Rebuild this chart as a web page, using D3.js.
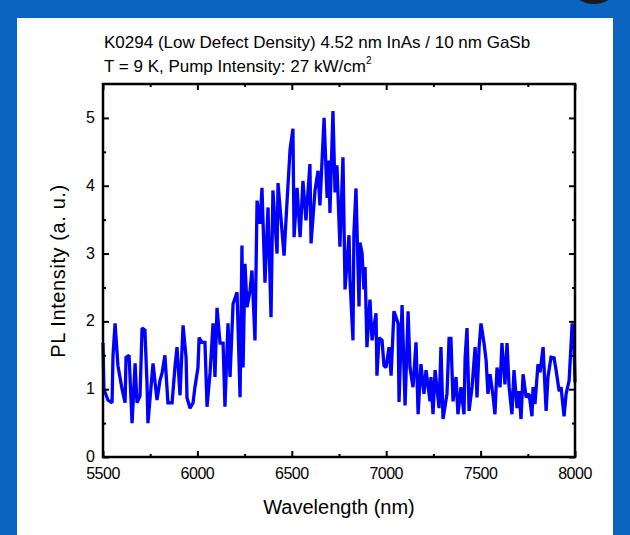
<!DOCTYPE html>
<html>
<head>
<meta charset="utf-8">
<script src="https://cdn.jsdelivr.net/npm/d3@7"></script>
<style>
  body { margin: 0; background: #0a64c0; }
  text { font-family: "Liberation Sans", Arial, sans-serif; fill: #000; }
</style>
</head>
<body>
<div id="chart"></div>
<script>
const width = 630;
const height = 535;

// values
const wavelength = [5500,5505,5526,5548,5553,5564,5579,5601,5617,5622,5638,5654,5670,5680,5696,5707,5722,5733,5738,5765,5786,5802,5813,5828,5844,5866,5881,5892,5908,5924,5940,5945,5961,5977,5987,6003,6009,6024,6040,6051,6067,6083,6093,6104,6120,6136,6146,6162,6173,6189,6210,6226,6236,6242,6252,6263,6279,6289,6305,6316,6332,6342,6358,6374,6390,6400,6422,6427,6448,6459,6475,6491,6506,6512,6528,6544,6559,6575,6596,6602,6623,6639,6649,6671,6687,6697,6702,6718,6729,6739,6755,6771,6782,6803,6808,6824,6829,6840,6856,6861,6872,6882,6888,6898,6914,6925,6946,6951,6962,6978,6988,6999,7015,7026,7041,7063,7068,7084,7100,7116,7126,7142,7158,7169,7184,7200,7211,7232,7237,7248,7259,7280,7290,7301,7322,7333,7343,7354,7370,7380,7396,7412,7418,7428,7439,7455,7471,7481,7492,7502,7518,7529,7539,7550,7566,7576,7587,7603,7613,7629,7640,7651,7666,7677,7693,7704,7714,7725,7741,7757,7772,7778,7788,7804,7815,7831,7847,7857,7873,7889,7900,7916,7926,7942,7953,7969,7985,7995,8000];
const intensity = [1.68,1.0,0.84,0.8,1.5,1.97,1.35,1.0,0.8,1.47,1.5,0.5,1.38,0.8,0.9,1.9,1.87,1.09,0.5,1.38,0.84,1.13,1.24,1.5,0.8,0.8,1.32,1.62,0.91,1.94,1.47,0.87,0.72,0.8,1.03,1.32,1.76,1.69,1.69,0.74,1.24,1.97,1.18,2.2,1.68,1.68,0.74,1.97,1.18,2.26,2.43,0.88,3.12,1.32,2.85,2.21,2.46,2.75,1.72,3.78,3.44,3.97,2.57,3.68,2.06,3.93,3.0,4.04,3.34,2.97,3.78,4.54,4.84,3.24,3.97,3.24,4.07,3.49,4.32,3.15,3.93,4.22,3.71,5.0,3.82,4.37,3.6,5.1,3.9,4.3,3.1,4.42,2.47,3.27,2.62,1.72,3.3,3.96,2.22,3.16,3.01,2.47,2.8,1.62,2.32,1.72,2.12,1.2,1.76,1.72,1.35,1.32,1.62,1.2,2.15,1.97,0.81,2.24,0.76,2.15,1.32,1.03,1.69,0.63,1.37,0.93,1.28,0.82,1.18,0.63,1.28,0.72,1.62,0.56,0.93,1.75,1.75,0.82,1.18,0.63,1.03,0.63,1.47,1.9,0.68,1.04,1.62,0.88,1.62,1.97,1.68,1.43,0.93,1.22,0.9,0.63,1.32,1.03,1.68,1.07,1.68,1.03,0.63,1.28,0.72,0.97,0.56,1.22,0.88,0.93,0.6,1.03,0.78,1.37,1.25,1.62,0.68,1.18,1.47,1.46,1.28,0.97,1.03,0.6,0.93,1.13,1.97,1.68,1.1];

const xTicks = [5500, 6000, 6500, 7000, 7500, 8000];
const xMinor = [5750, 6250, 6750, 7250, 7750];
const yTicks = [0, 1, 2, 3, 4, 5];
const yMinor = [0.5, 1.5, 2.5, 3.5, 4.5];

const titleLine1 = "K0294 (Low Defect Density) 4.52 nm InAs / 10 nm GaSb";
const titleLine2 = "T = 9 K, Pump Intensity: 27 kW/cm";

const margin = {left: 103, right: 575, top: 84, bottom: 457};

const x = d3.scaleLinear().domain([5500, 8000]).range([margin.left, margin.right]);
const y = d3.scaleLinear().domain([0, 5.5]).range([margin.bottom, margin.top]);

const svg = d3.select("#chart").append("svg")
  .attr("width", width)
  .attr("height", height);

// slide background
svg.append("rect").attr("width", width).attr("height", height).attr("fill", "#0a64c0");
svg.append("rect")
  .attr("x", 17).attr("y", 18)
  .attr("width", 596).attr("height", height - 18)
  .attr("fill", "#fff");
svg.append("ellipse")
  .attr("cx", 594).attr("cy", -6).attr("rx", 18).attr("ry", 10)
  .attr("fill", "#1a1a1a");

// titles
svg.append("text").attr("x", 104).attr("y", 48)
  .style("font-size", "17px")
  .text(titleLine1);
const t2 = svg.append("text").attr("x", 104).attr("y", 72)
  .style("font-size", "17px");
t2.append("tspan").text(titleLine2);
t2.append("tspan").attr("dy", -8).style("font-size", "10px").text("2");

// data line
const line = d3.line()
  .x((d, i) => x(wavelength[i]))
  .y(d => y(d));

svg.append("path")
  .datum(intensity)
  .attr("d", line)
  .attr("fill", "none")
  .attr("stroke", "#0000ff")
  .attr("stroke-width", 3.3)
  .attr("stroke-linejoin", "miter")
  .attr("stroke-miterlimit", 2);

// axes, ticks pointing inwards on all four sides
const g = svg.append("g").attr("class", "axes");

function ticksOn(axis, pos, values, len) {
  axis.tickValues(values).tickSize(-len).tickFormat("");
  g.append("g").attr("transform", pos).call(axis)
    .call(s => s.select(".domain").remove())
    .selectAll("line").attr("stroke", "#000").attr("stroke-width", 2);
}

ticksOn(d3.axisBottom(x), `translate(0,${margin.bottom})`, xTicks, 6);
ticksOn(d3.axisBottom(x), `translate(0,${margin.bottom})`, xMinor, 3);
ticksOn(d3.axisTop(x), `translate(0,${margin.top})`, xTicks, 6);
ticksOn(d3.axisTop(x), `translate(0,${margin.top})`, xMinor, 3);
ticksOn(d3.axisLeft(y), `translate(${margin.left},0)`, yTicks, 6);
ticksOn(d3.axisLeft(y), `translate(${margin.left},0)`, yMinor, 3);
ticksOn(d3.axisRight(y), `translate(${margin.right},0)`, yTicks, 6);
ticksOn(d3.axisRight(y), `translate(${margin.right},0)`, yMinor, 3);

g.append("rect")
  .attr("x", margin.left).attr("y", margin.top)
  .attr("width", margin.right - margin.left)
  .attr("height", margin.bottom - margin.top)
  .attr("fill", "none").attr("stroke", "#000").attr("stroke-width", 2.5);

// tick labels
g.selectAll(".xl").data(xTicks).join("text")
  .attr("x", d => x(d)).attr("y", margin.bottom + 22)
  .attr("text-anchor", "middle")
  .style("font-size", "16px").style("letter-spacing", "-0.5px")
  .text(d => d);

g.selectAll(".yl").data(yTicks).join("text")
  .attr("x", margin.left - 8).attr("y", d => y(d) + 5)
  .attr("text-anchor", "end")
  .style("font-size", "16px")
  .text(d => d);

// axis titles
svg.append("text")
  .attr("x", 339).attr("y", 514)
  .attr("text-anchor", "middle")
  .style("font-size", "20px")
  .text("Wavelength (nm)");

svg.append("text")
  .attr("transform", "translate(65,271) rotate(-90)")
  .attr("text-anchor", "middle")
  .style("font-size", "20px").style("letter-spacing", "0.6px")
  .text("PL Intensity (a. u.)");
</script>
</body>
</html>
